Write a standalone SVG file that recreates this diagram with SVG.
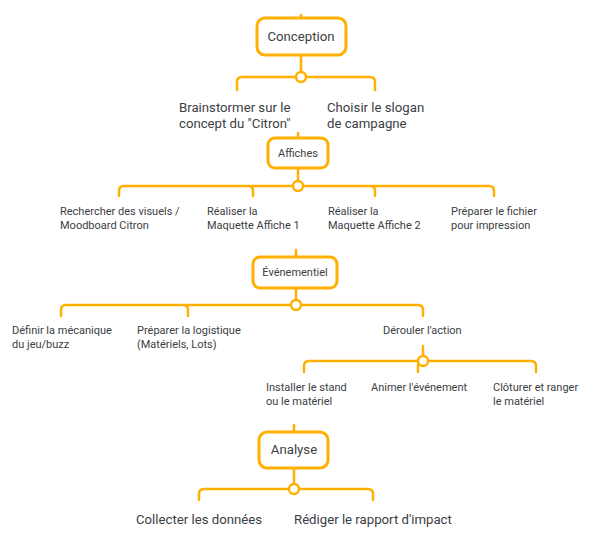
<svg xmlns="http://www.w3.org/2000/svg" width="593" height="553" viewBox="0 0 593 553">
<style>
.box{fill:#fff;stroke:#FFB000;stroke-width:3}
.ln{fill:none;stroke:#FFB000;stroke-width:2.5;stroke-linecap:round;stroke-linejoin:round}
.dot{fill:#fff;stroke:#FFB000;stroke-width:2.5}
text{font-family:Roboto,"Noto Sans",sans-serif;fill:#3c4043}
.t1{font-size:13.2px}
.t2{font-size:11px}
.c{text-anchor:middle}
</style>
<rect width="593" height="553" fill="#fff"/>
<g id="connectors">
<path class="ln" d="M301,15 V18 M301,55 V72 M237,90 V82 Q237,77 242,77 H370 Q375,77 375,82 V90"/>
<path class="ln" d="M298,133 V138 M298,168 V181 M119,196 V191 Q119,186 124,186 H489 Q494,186 494,191 V196 M248,186 Q253,186 253,191 V196 M370,186 Q375,186 375,191 V196"/>
<path class="ln" d="M296,250 V257 M296,288 V300 M61,316 V310 Q61,305 66,305 H418 Q423,305 423,310 V316 M183,305 Q188,305 188,310 V316"/>
<path class="ln" d="M423,346 V356 M304,372 V366 Q304,361 309,361 H531 Q536,361 536,366 V372 M423,361 Q418,361 418,366 V372"/>
<path class="ln" d="M294,425 V432 M294,468 V484 M199,500 V494 Q199,489 204,489 H368 Q373,489 373,494 V500"/>
<circle class="dot" cx="301" cy="77" r="5"/>
<circle class="dot" cx="298" cy="186" r="5"/>
<circle class="dot" cx="296" cy="305" r="5"/>
<circle class="dot" cx="423" cy="361" r="5"/>
<circle class="dot" cx="294" cy="489" r="5"/>
</g>
<g id="conception">
<rect class="box" x="257" y="18" width="89" height="37" rx="8"/>
<text class="t1 c" x="301" y="41">Conception</text>
</g>
<g id="brainstormer"><text class="t1" x="179" y="112">Brainstormer sur le</text><text class="t1" x="179" y="128">concept du "Citron"</text></g>
<g id="slogan"><text class="t1" x="327" y="112">Choisir le slogan</text><text class="t1" x="327" y="128">de campagne</text></g>
<g id="affiches">
<rect class="box" x="268" y="138" width="60" height="30" rx="7"/>
<text class="t2 c" x="298" y="157">Affiches</text>
</g>
<g id="visuels"><text class="t2" x="60" y="215">Rechercher des visuels /</text><text class="t2" x="60" y="229">Moodboard Citron</text></g>
<g id="affiche1"><text class="t2" x="207" y="215">Réaliser la</text><text class="t2" x="207" y="229">Maquette Affiche 1</text></g>
<g id="affiche2"><text class="t2" x="328" y="215">Réaliser la</text><text class="t2" x="328" y="229">Maquette Affiche 2</text></g>
<g id="fichier"><text class="t2" x="451" y="215">Préparer le fichier</text><text class="t2" x="451" y="229">pour impression</text></g>
<g id="evenementiel">
<rect class="box" x="253" y="257" width="84" height="31" rx="7"/>
<text class="t2 c" x="295" y="276">Événementiel</text>
</g>
<g id="mecanique"><text class="t2" x="12" y="334">Définir la mécanique</text><text class="t2" x="12" y="348">du jeu/buzz</text></g>
<g id="logistique"><text class="t2" x="137" y="334">Préparer la logistique</text><text class="t2" x="137" y="348">(Matériels, Lots)</text></g>
<g id="derouler"><text class="t2" x="383" y="334">Dérouler l'action</text></g>
<g id="installer"><text class="t2" x="266" y="391">Installer le stand</text><text class="t2" x="266" y="405">ou le matériel</text></g>
<g id="animer"><text class="t2" x="371" y="391">Animer l'événement</text></g>
<g id="cloturer"><text class="t2" x="493" y="391">Clôturer et ranger</text><text class="t2" x="493" y="405">le matériel</text></g>
<g id="analyse">
<rect class="box" x="259" y="432" width="69" height="36" rx="8"/>
<text class="t1 c" x="294" y="454">Analyse</text>
</g>
<g id="collecter"><text class="t1" x="136" y="524">Collecter les données</text></g>
<g id="rediger"><text class="t1" x="294" y="524">Rédiger le rapport d'impact</text></g>
</svg>
